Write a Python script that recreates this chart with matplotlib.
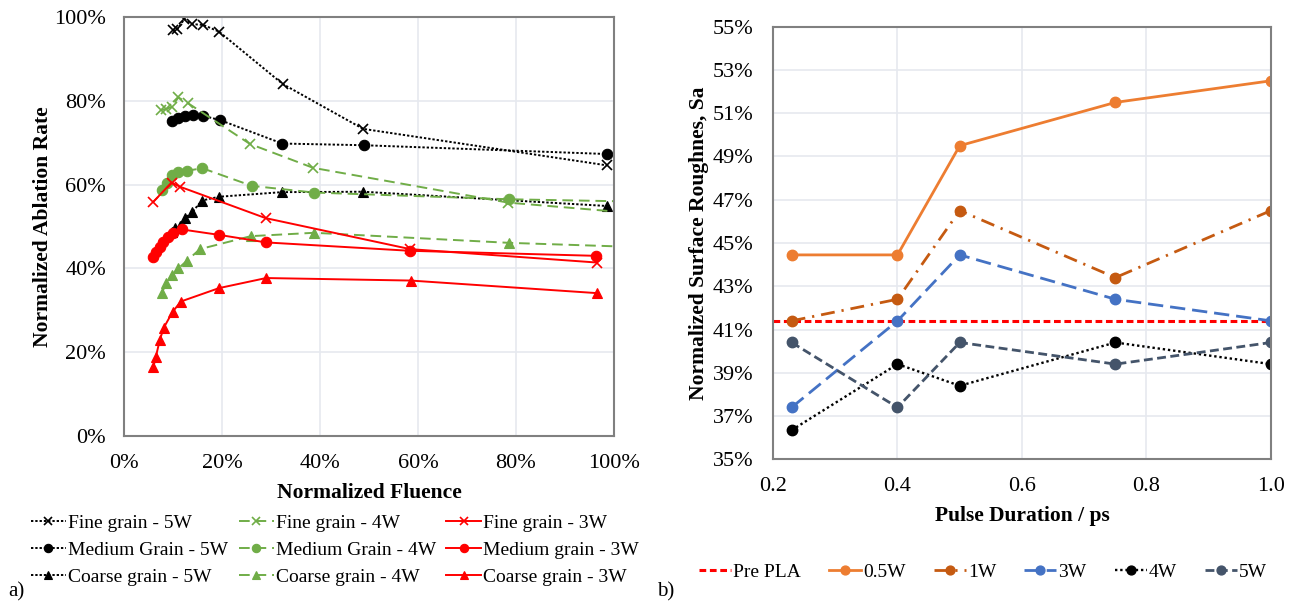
import matplotlib
matplotlib.use("Agg")
import matplotlib.pyplot as plt
from matplotlib.ticker import PercentFormatter, FixedLocator, FormatStrFormatter

plt.rcParams['font.family'] = ['Liberation Serif', 'DejaVu Serif']

# ---------------- Left chart data (percent) ----------------
fine_5w_x = [9.9, 10.9, 12.3, 13.9, 16.2, 19.4, 32.4, 48.8, 98.5]
fine_5w_y = [96.8, 97.1, 99.5, 98.3, 98.1, 96.5, 84.0, 73.3, 64.6]
med_5w_x = [9.7, 11.1, 12.4, 14.0, 16.2, 19.6, 32.3, 48.9, 98.5]
med_5w_y = [75.2, 75.8, 76.4, 76.5, 76.4, 75.4, 69.8, 69.4, 67.3]
coarse_5w_x = [9.7, 10.4, 11.4, 12.4, 13.9, 15.9, 19.4, 32.2, 48.8, 98.5]
coarse_5w_y = [48.8, 49.6, 50.2, 52.0, 53.4, 56.2, 57.1, 58.2, 58.3, 54.9]

fine_4w_x = [7.5, 8.6, 9.7, 11.1, 13.1, 25.7, 38.6, 78.4, 102.0]
fine_4w_y = [77.8, 78.0, 78.6, 80.8, 79.4, 69.7, 64.0, 55.7, 53.4]
med_4w_x = [7.7, 8.7, 9.7, 11.1, 12.8, 16.0, 26.1, 38.8, 78.6, 102.0]
med_4w_y = [58.7, 60.3, 62.3, 62.9, 63.3, 63.9, 59.7, 58.1, 56.5, 56.0]
coarse_4w_x = [7.7, 8.6, 9.7, 11.1, 12.8, 15.5, 25.9, 38.8, 78.6, 102.0]
coarse_4w_y = [34.1, 36.4, 38.4, 40.0, 41.8, 44.6, 47.7, 48.5, 46.1, 45.2]

fine_3w_x = [6.0, 9.7, 11.4, 28.9, 58.4, 96.5]
fine_3w_y = [55.9, 60.5, 59.5, 52.0, 44.6, 41.4]
med_3w_x = [5.9, 6.6, 7.3, 8.0, 9.0, 10.1, 11.8, 19.4, 29.0, 58.4, 96.3]
med_3w_y = [42.7, 44.0, 45.1, 46.3, 47.4, 48.4, 49.3, 48.0, 46.2, 44.2, 43.0]
coarse_3w_x = [6.0, 6.5, 7.3, 8.1, 9.9, 11.6, 19.4, 29.0, 58.5, 96.5]
coarse_3w_y = [16.5, 18.9, 22.9, 25.8, 29.6, 32.1, 35.3, 37.7, 37.1, 34.1]

left_labels = ["Fine grain - 5W", "Medium Grain - 5W", "Coarse grain - 5W",
               "Fine grain - 4W", "Medium Grain - 4W", "Coarse grain - 4W",
               "Fine grain - 3W", "Medium grain - 3W", "Coarse grain - 3W"]

# ---------------- Right chart data (percent) ----------------
pulse = [0.23, 0.4, 0.5, 0.75, 1.0]
pre_pla_x = [0.2, 1.0]
pre_pla_y = [41.4, 41.4]
w05 = [44.45, 44.45, 49.5, 51.5, 52.5]
w1 = [41.4, 42.4, 46.5, 43.4, 46.5]
w3 = [37.4, 41.4, 44.45, 42.4, 41.4]
w4 = [36.35, 39.4, 38.4, 40.4, 39.4]
w5 = [40.4, 37.4, 40.4, 39.4, 40.4]
right_labels = ["Pre PLA", "0.5W", "1W", "3W", "4W", "5W"]

BLACK = "#000000"
GREEN = "#70AD47"
RED = "#FF0000"
GRID = "#E6E9EF"
SPINE = "#808080"
TICK_FS = 16
LABEL_FS = 15.5
LEG_FS = 14

fig = plt.figure(figsize=(12.95, 6.03), dpi=100)

# ================= Left axes =================
axL = fig.add_axes([124/1295, 1-436/603, (614-124)/1295, (436-17)/603])

dot5 = (0, (1.2, 1.0))
dash4 = (0, (5.5, 3.0))
lw = 1.4
series = [
    (fine_5w_x, fine_5w_y, BLACK, dot5, 'x', 7),
    (med_5w_x, med_5w_y, BLACK, dot5, 'o', 7.5),
    (coarse_5w_x, coarse_5w_y, BLACK, dot5, '^', 6.5),
    (fine_4w_x, fine_4w_y, GREEN, dash4, 'x', 7),
    (med_4w_x, med_4w_y, GREEN, dash4, 'o', 7.5),
    (coarse_4w_x, coarse_4w_y, GREEN, dash4, '^', 6.5),
    (fine_3w_x, fine_3w_y, RED, '-', 'x', 7),
    (med_3w_x, med_3w_y, RED, '-', 'o', 7.5),
    (coarse_3w_x, coarse_3w_y, RED, '-', '^', 6.5),
]
for (xs, ys, c, ls, m, ms), lab in zip(series, left_labels):
    axL.plot(xs, ys, color=c, linestyle=ls, linewidth=lw, marker=m,
             markersize=ms, markeredgewidth=1.2 if m == 'x' else 0.8,
             markerfacecolor=c, markeredgecolor=c, label=lab)

axL.set_xlim(0, 100)
axL.set_ylim(0, 100)
axL.xaxis.set_major_locator(FixedLocator([0, 20, 40, 60, 80, 100]))
axL.yaxis.set_major_locator(FixedLocator([0, 20, 40, 60, 80, 100]))
axL.xaxis.set_major_formatter(PercentFormatter(decimals=0))
axL.yaxis.set_major_formatter(PercentFormatter(decimals=0))
axL.grid(True, color=GRID, linewidth=1.2)
axL.set_axisbelow(True)
axL.tick_params(length=0, labelsize=TICK_FS)
axL.tick_params(axis='x', pad=13)
axL.tick_params(axis='y', pad=13)
for s in axL.spines.values():
    s.set_color(SPINE)
    s.set_linewidth(1.5)
axL.set_xlabel("Normalized Fluence", fontsize=LABEL_FS, fontweight='bold', labelpad=7)
axL.set_ylabel("Normalized Ablation Rate", fontsize=LABEL_FS, fontweight='bold', labelpad=1)

handles, labels = axL.get_legend_handles_labels()
fig.legend(handles, labels, loc='center', bbox_to_anchor=(335/1295, 1-550/603),
           ncol=3, frameon=False, fontsize=LEG_FS, handlelength=1.8,
           handletextpad=0.1, columnspacing=0.55, labelspacing=0.48,
           borderaxespad=0, borderpad=0, markerscale=0.8)

# ================= Right axes =================
axR = fig.add_axes([773/1295, 1-459.3/603, (1271-773)/1295, (459.3-26.7)/603])
ms = 7.5
axR.plot(pre_pla_x, pre_pla_y, color=RED, linestyle=(0, (2.2, 1.2)), linewidth=2.2,
         label=right_labels[0])
axR.plot(pulse, w05, color="#ED7D31", linestyle='-', linewidth=2, marker='o',
         markersize=ms, label=right_labels[1])
axR.plot(pulse, w1, color="#C55A11", linestyle=(0, (5, 2.5, 0.8, 2.5)), linewidth=2,
         marker='o', markersize=ms, label=right_labels[2])
axR.plot(pulse, w3, color="#4472C4", linestyle=(0, (5.5, 2.5)), linewidth=2,
         marker='o', markersize=ms, label=right_labels[3])
axR.plot(pulse, w4, color=BLACK, linestyle=(0, (1, 1.2)), linewidth=1.7,
         marker='o', markersize=ms, label=right_labels[4])
axR.plot(pulse, w5, color="#44546A", linestyle=(0, (3.2, 1.6)), linewidth=2,
         marker='o', markersize=ms, label=right_labels[5])

axR.set_xlim(0.2, 1.0)
axR.set_ylim(35, 55)
axR.xaxis.set_major_locator(FixedLocator([0.2, 0.4, 0.6, 0.8, 1.0]))
axR.xaxis.set_major_formatter(FormatStrFormatter('%.1f'))
axR.yaxis.set_major_locator(FixedLocator([35, 37, 39, 41, 43, 45, 47, 49, 51, 53, 55]))
axR.yaxis.set_major_formatter(PercentFormatter(decimals=0))
axR.grid(True, color=GRID, linewidth=1.2)
axR.set_axisbelow(True)
axR.tick_params(length=0, labelsize=TICK_FS)
axR.tick_params(axis='x', pad=13)
axR.tick_params(axis='y', pad=14)
for s in axR.spines.values():
    s.set_color(SPINE)
    s.set_linewidth(1.5)
axR.set_xlabel("Pulse Duration / ps", fontsize=LABEL_FS, fontweight='bold', labelpad=7)
axR.set_ylabel("Normalized Surface Roughnes, Sa", fontsize=LABEL_FS, fontweight='bold', labelpad=3)

handles, labels = axR.get_legend_handles_labels()
fig.legend(handles, labels, loc='center', bbox_to_anchor=(983/1295, 1-572/603),
           ncol=6, frameon=False, fontsize=LEG_FS, handlelength=1.65,
           handletextpad=0.1, columnspacing=1.45, borderaxespad=0, borderpad=0,
           markerscale=0.85)

fig.text(8/1295, 1-592/603, "a)", fontsize=15, ha='left', va='center')
fig.text(657/1295, 1-592/603, "b)", fontsize=15, ha='left', va='center')

fig.savefig("out.png", dpi=100)
